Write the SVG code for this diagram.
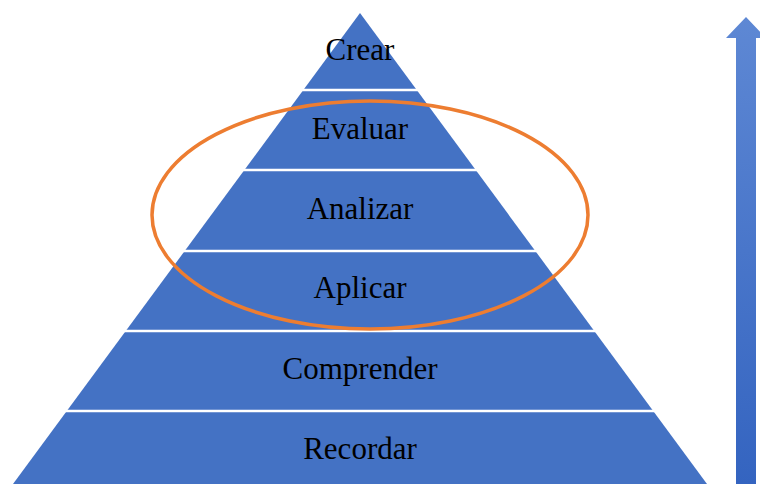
<svg xmlns="http://www.w3.org/2000/svg" width="760" height="484" viewBox="0 0 760 484">
  <style>
    .tier { fill: #4472C4; }
    .sep { stroke: #FFFFFF; stroke-width: 2.5; }
    .label { font-family: "Liberation Serif", "Times New Roman", serif; font-size: 31px; fill: #000000; text-anchor: middle; }
    .focus { fill: none; stroke: #ED7D31; stroke-width: 3.5; }
  </style>
  <defs>
    <linearGradient id="rise" x1="0" y1="0" x2="0" y2="1">
      <stop offset="0" stop-color="#5E88D4"/>
      <stop offset="1" stop-color="#3464C0"/>
    </linearGradient>
  </defs>

  <!-- pyramid body -->
  <g id="pyramid">
    <polygon class="tier" points="360,13 707,484 13,484"/>
  </g>

  <!-- tier separators -->
  <g id="separators">
    <line class="sep" x1="0" y1="90" x2="720" y2="90"/>
    <line class="sep" x1="0" y1="170" x2="720" y2="170"/>
    <line class="sep" x1="0" y1="251" x2="720" y2="251"/>
    <line class="sep" x1="0" y1="331" x2="720" y2="331"/>
    <line class="sep" x1="0" y1="411" x2="720" y2="411"/>
  </g>

  <g id="crear"><text class="label" x="360" y="60">Crear</text></g>
  <g id="evaluar"><text class="label" x="360" y="139">Evaluar</text></g>
  <g id="analizar"><text class="label" x="360" y="219">Analizar</text></g>
  <g id="aplicar"><text class="label" x="360" y="298">Aplicar</text></g>
  <g id="comprender"><text class="label" x="360" y="379">Comprender</text></g>
  <g id="recordar"><text class="label" x="360" y="459">Recordar</text></g>

  <!-- highlight around the middle tiers -->
  <g id="highlight">
    <ellipse class="focus" cx="370" cy="215" rx="218" ry="114"/>
  </g>

  <!-- upward arrow -->
  <g id="connectors">
    <polygon fill="url(#rise)" points="746,17 766,38 756,38 756,484 736,484 736,38 726,38"/>
  </g>
</svg>
